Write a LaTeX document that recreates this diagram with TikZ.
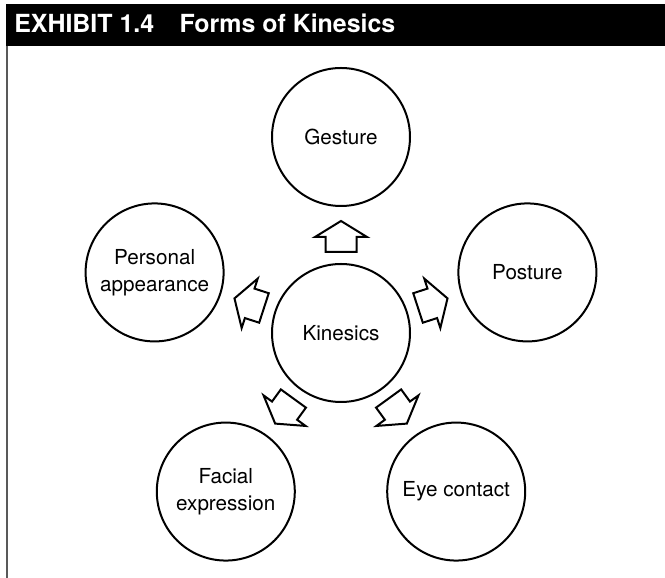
\documentclass[tikz,border=0pt]{standalone}
\usepackage{fontspec}
\setmainfont{TeX Gyre Heros}
\usetikzlibrary{calc}
\tikzset{
	topic/.style={draw, circle, line width=1.5pt, minimum size=103.5pt, inner sep=0pt, align=center, font=\fontsize{15.5}{20}\selectfont},
	blockarrow/.style={draw, line width=1.5pt, line join=miter, fill=white}
}
\begin{document}
\begin{tikzpicture}[x=0.75pt,y=0.75pt]
				\useasboundingbox (0,0) rectangle (665,578);
				% header bar
				\fill[black] (6,532) rectangle (665,574);
				\node[anchor=base west, text=white, font=\bfseries\fontsize{18.7}{22}\selectfont, inner sep=0pt] (title) at (14,545) {EXHIBIT 1.4\hspace{19pt}Forms of Kinesics};
				\draw[gray!70!black, line width=1.5pt] (7,532) -- (7,0);
				% circles
				\node[topic] (kin) at (341,245) {Kinesics};
				\node[topic] (ges) at ($(kin)+(90:196)$) {Gesture};
				\node[topic] (pos) at ($(kin)+(18:196)$) {Posture};
				\node[topic] (app) at ($(kin)+(162:196)$) {Personal\\appearance};
				\node[topic] (eye) at ($(kin)+(-54:196)$) {Eye contact};
				\node[topic] (fac) at ($(kin)+(-126:196)$) {Facial\\expression};
				% block arrows
				\foreach \a in {90,18,162,-54,-126}
				\draw[blockarrow, shift={(kin)}, rotate=\a] (81,-15.5) -- (96,-15.5) -- (96,-26) -- (112,0) -- (96,26) -- (96,15.5) -- (81,15.5) -- cycle;
			\end{tikzpicture}
\end{document}
